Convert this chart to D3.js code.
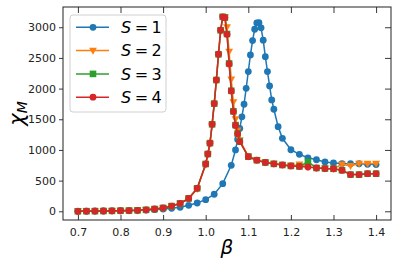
<!DOCTYPE html>
<html><head><meta charset="utf-8">
<script src="https://cdn.jsdelivr.net/npm/d3@7"></script>
<style>body{margin:0;background:#fff}svg{display:block}text{font-family:"DejaVu Sans",sans-serif}</style>
</head><body><svg id="c" width="398" height="267"></svg>
<script>
const beta1 = [0.70,0.72,0.74,0.76,0.78,0.80,0.82,0.84,0.86,0.88,0.90,0.92,0.94,0.96,0.98,1.00,1.02,1.04,1.06,1.07,1.075,1.08,1.085,1.09,1.095,1.10,1.105,1.11,1.115,1.12,1.125,1.13,1.135,1.14,1.145,1.15,1.155,1.16,1.17,1.18,1.20,1.22,1.24,1.26,1.28,1.30,1.32,1.34,1.36,1.38,1.40];
const chi1 = [3,4,5,6,8,10,12,15,20,27,36,48,66,98,135,190,278,450,750,1000,1170,1350,1540,1745,2005,2277,2549,2782,2967,3070,3075,2990,2790,2521,2277,2043,1815,1663,1380,1190,1003,928,872,840,805,789,777,775,775,765,762];
const beta2 = [0.70,0.72,0.74,0.76,0.78,0.80,0.82,0.84,0.86,0.88,0.90,0.92,0.94,0.96,0.98,1.00,1.005,1.01,1.015,1.02,1.025,1.03,1.035,1.04,1.045,1.05,1.055,1.06,1.065,1.07,1.075,1.08,1.10,1.12,1.14,1.16,1.18,1.20,1.22,1.24,1.26,1.28,1.30,1.32,1.34,1.36,1.38,1.40];
const chi2 = [0,2,3,5,7,9,12,16,24,37,55,85,125,205,365,760,925,1100,1400,1740,2120,2540,2930,3160,3170,3000,2600,2150,1780,1500,1320,1160,895,835,798,775,757,742,762,724,708,699,694,765,740,778,778,778];
const chi3 = [0,2,3,5,7,9,12,16,24,37,55,85,128,210,375,771,934,1111,1418,1755,2140,2560,2951,3170,3157,2890,2410,1965,1630,1405,1268,1138,890,833,796,773,755,740,731,805,706,697,693,668,598,598,613,613];
const chi4 = [0,2,3,5,7,9,12,16,24,37,55,85,128,210,375,771,934,1111,1418,1755,2140,2560,2951,3170,3157,2885,2402,1961,1626,1400,1265,1135,890,833,796,773,755,740,731,722,706,697,693,668,598,598,613,613];
const xTicks = [0.7,0.8,0.9,1.0,1.1,1.2,1.3,1.4];
const yTicks = [0,500,1000,1500,2000,2500,3000];
const seriesNames = ["1","2","3","4"];

const colors = ["#1f77b4","#ff7f0e","#2ca02c","#d62728"];
const markers = ["circle","tri","square","circle"];
const series = [
  {x:beta1,y:chi1},{x:beta2,y:chi2},{x:beta2,y:chi3},{x:beta2,y:chi4}
];
const L=63,R=391,T=7,B=220;
const svg=d3.select("#c");
const x=d3.scaleLinear().domain([0.665,1.435]).range([L,R]);
const y=d3.scaleLinear().domain([-142,3330]).range([B,T]);

function drawMarker(g,type,cx,cy,col){
  if(type==="circle") g.append("circle").attr("cx",cx).attr("cy",cy).attr("r",3.4).attr("fill",col);
  else if(type==="square") g.append("rect").attr("x",cx-3.3).attr("y",cy-3.3).attr("width",6.6).attr("height",6.6).attr("fill",col);
  else { const s=3.9; g.append("path").attr("d",`M${cx-s},${cy-s*0.75}L${cx+s},${cy-s*0.75}L${cx},${cy+s*1.05}Z`).attr("fill",col); }
}

const line=d3.line().x(d=>x(d[0])).y(d=>y(d[1]));
series.forEach((s,i)=>{
  const pts=s.x.map((b,j)=>[b,s.y[j]]);
  const g=svg.append("g");
  g.append("path").attr("d",line(pts)).attr("fill","none").attr("stroke",colors[i]).attr("stroke-width",1.5);
  pts.forEach(p=>drawMarker(g,markers[i],x(p[0]),y(p[1]),colors[i]));
});

// axes
const ax=svg.append("g").attr("transform",`translate(0,${B})`).call(d3.axisBottom(x).tickValues(xTicks).tickSize(-5).tickPadding(8).tickFormat(d3.format(".1f")));
const ay=svg.append("g").attr("transform",`translate(${L},0)`).call(d3.axisLeft(y).tickValues(yTicks).tickSize(4).tickPadding(3).tickFormat(d3.format("d")));
const at=svg.append("g").attr("transform",`translate(0,${T})`).call(d3.axisTop(x).tickValues(xTicks).tickSize(-6).tickFormat(""));
const ar=svg.append("g").attr("transform",`translate(${R},0)`).call(d3.axisRight(y).tickValues(yTicks).tickSize(-6).tickFormat(""));
[ax,ay,at,ar].forEach(a=>{a.select(".domain").remove();a.selectAll("line").attr("stroke","#222").attr("stroke-width",0.9);a.selectAll("text").attr("font-size",11).attr("fill","#222").attr("font-family","DejaVu Sans");});
svg.append("rect").attr("x",L).attr("y",T).attr("width",R-L).attr("height",B-T).attr("fill","none").attr("stroke","#222").attr("stroke-width",1);

// axis labels
svg.append("text").attr("x",(L+R)/2).attr("y",254).attr("text-anchor","middle").attr("font-size",20).attr("font-style","italic").text("β");
const yl=svg.append("text").attr("transform",`translate(24,${(T+B)/2}) rotate(-90)`).attr("text-anchor","middle").attr("font-size",21).attr("font-style","italic");
yl.append("tspan").text("χ");
yl.append("tspan").attr("font-size",14).attr("dy",3).text("M");

// legend
const lg=svg.append("g");
lg.append("rect").attr("x",70).attr("y",15).attr("width",96).attr("height",97).attr("rx",3).attr("fill","#fff").attr("fill-opacity",0.8).attr("stroke","#d0d0d0").attr("stroke-width",1);
seriesNames.forEach((n,i)=>{
  const cy=27.3+i*23.3;
  lg.append("line").attr("x1",76).attr("x2",109).attr("y1",cy).attr("y2",cy).attr("stroke",colors[i]).attr("stroke-width",1.5);
  drawMarker(lg,markers[i],93,cy,colors[i]);
  const t=lg.append("text").attr("x",121).attr("y",cy+5.8).attr("font-size",16).attr("fill","#000");
  t.append("tspan").attr("font-style","italic").text("S");
  t.append("tspan").attr("dx",3.5).text("=");
  t.append("tspan").attr("dx",3.5).text(n);
});
</script></body></html>
